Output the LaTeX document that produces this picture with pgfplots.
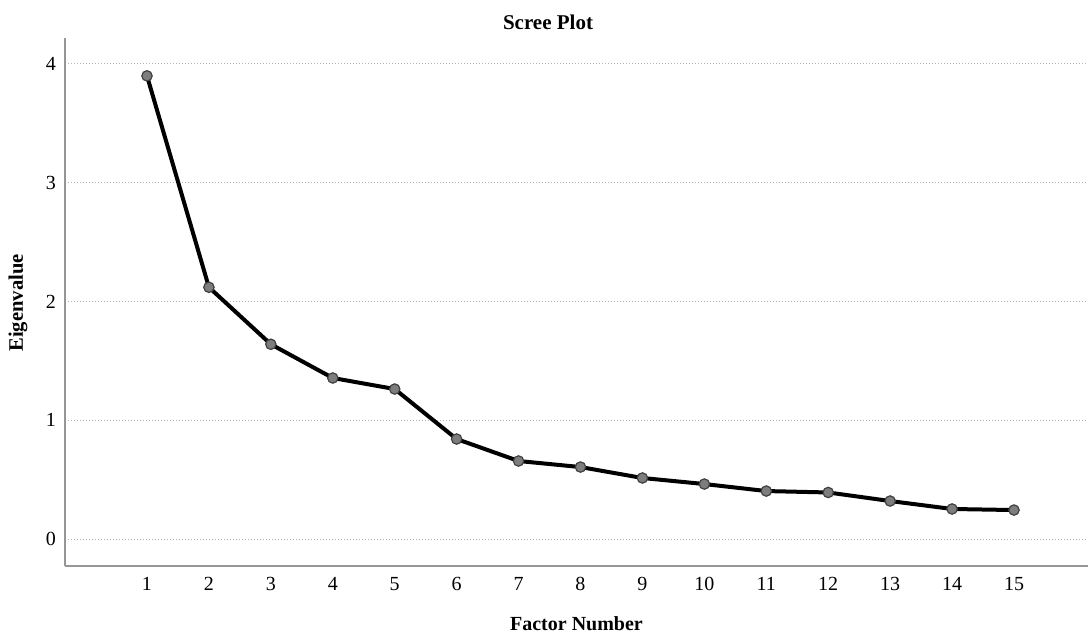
\documentclass[border=0pt]{standalone}
\usepackage{fontspec}
\setmainfont{Liberation Serif}
\usepackage{pgfplots}
\pgfplotsset{compat=1.18}
\definecolor{gridgray}{RGB}{180,180,180}
\definecolor{axisgray}{RGB}{150,150,150}
\definecolor{markgray}{RGB}{125,125,125}
\begin{document}
\begin{tikzpicture}[x=1pt,y=1pt]
\begin{axis}[
  at={(0,0)}, anchor=south west,
  width=511.5pt, height=264pt, scale only axis,
  xmin=-0.324, xmax=16.195, ymin=-0.227, ymax=4.219,
  axis x line=bottom, axis y line=left,
  axis line style={draw=axisgray, line width=1pt, -},
  xtick={1,...,15}, ytick={0,1,2,3,4},
  major tick length=0pt,
  ymajorgrids, grid style={gridgray, line width=0.5pt, densely dotted},
  tick label style={font=\fontsize{10}{12}\selectfont},
  /pgf/number format/assume math mode=true,
  xticklabel style={yshift=-2pt},
  yticklabel style={xshift=-1pt},
  clip=false,
]
\addplot[black, line width=2pt, mark=*, mark size=2.6pt,
  mark options={fill=markgray, draw=black!75, line width=0.6pt}]
  coordinates {(1,3.90) (2,2.12) (3,1.64) (4,1.356) (5,1.263) (6,0.842) (7,0.657) (8,0.606) (9,0.514) (10,0.463) (11,0.404) (12,0.392) (13,0.320) (14,0.253) (15,0.244)};
\end{axis}
\node[font=\bfseries\fontsize{10.5}{12}\selectfont] at (241.5,272) {Scree Plot};
\node[font=\bfseries\fontsize{10}{12}\selectfont] at (255.75,-29) {Factor Number};
\node[font=\bfseries\fontsize{10.3}{12}\selectfont, rotate=90] at (-23.5,131.5) {Eigenvalue};
\pgfresetboundingbox
\path[use as bounding box] (-32.5,-34.5) rectangle (511.5,283);
\end{tikzpicture}
\end{document}
